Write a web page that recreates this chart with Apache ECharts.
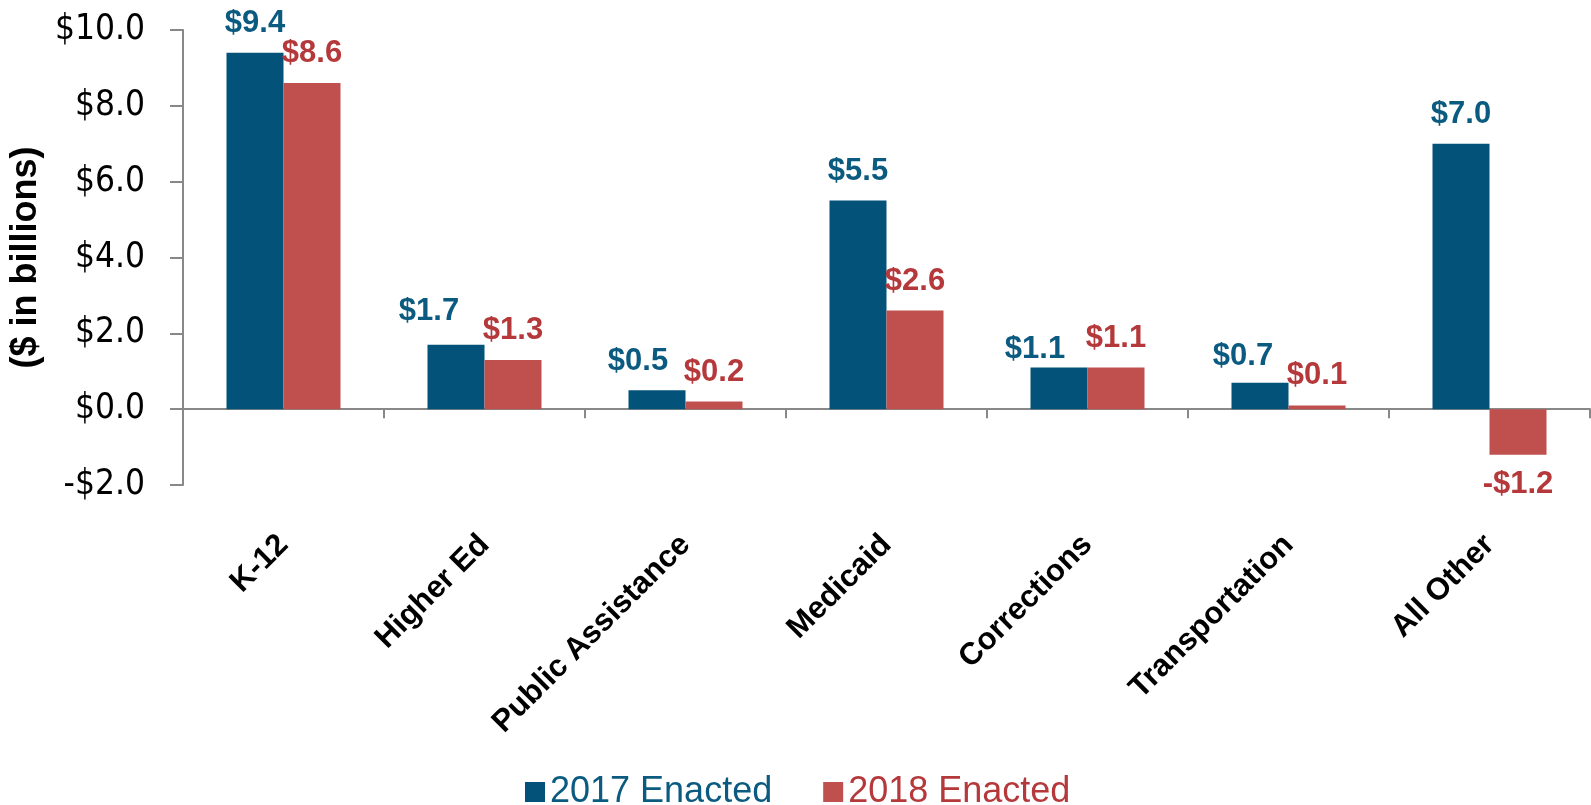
<!DOCTYPE html>
<html>
<head>
<meta charset="utf-8">
<title>Spending change by category</title>
<script src="https://cdn.jsdelivr.net/npm/echarts@6/dist/echarts.min.js"></script>
<style>
  html, body { margin: 0; padding: 0; background: #fff; }
  #chart-main { width: 1591px; height: 805px; }
</style>
</head>
<body>
<div id="chart-main"></div>
<script>
// chart data
const categories = ['K-12', 'Higher Ed', 'Public Assistance', 'Medicaid', 'Corrections', 'Transportation', 'All Other'];
const enacted2017 = [9.4, 1.7, 0.5, 5.5, 1.1, 0.7, 7.0];
const enacted2018 = [8.6, 1.3, 0.2, 2.6, 1.1, 0.1, -1.2];
const seriesNames = ['2017 Enacted', '2018 Enacted'];
const yTicks = [-2, 0, 2, 4, 6, 8, 10];

const BLUE = '#03527A';
const RED = '#C0504D';
const BLUE_TXT = '#0B5A80';
const RED_TXT = '#B5383B';

// blue labels that were nudged left in the original so they don't collide
const blueNudge = { 1: [-27, -4], 2: [-19, 1], 4: [-24, 11], 5: [-17, 3] };

function money(v) {
    return (v < 0 ? '-' : '') + '$' + Math.abs(v).toFixed(1);
}

function buildData(values, nudges) {
    return values.map(function (v, i) {
        let item = { value: v };
        if (v < 0) {
            item.label = { position: 'bottom' };
        }
        if (nudges && nudges[i]) {
            item.label = Object.assign(item.label || {}, { offset: nudges[i] });
        }
        return item;
    });
}

eshipChartMain();

function eshipChartMain() {
    let myChart = echarts.init(document.getElementById('chart-main'));

    let labelBase = {
        show: true,
        position: 'top',
        distance: 14,
        fontFamily: 'Liberation Sans, Arial, sans-serif',
        fontWeight: 'bold',
        fontSize: 31,
        formatter: function (p) { return money(p.value); }
    };

    let option = {
        animation: false,
        backgroundColor: '#fff',
        grid: {
            left: 183,
            right: 1,
            top: 30,
            bottom: 320,
            containLabel: false,
            outerBoundsMode: 'none'
        },
        legend: {
            data: [
                { name: seriesNames[0], textStyle: { color: BLUE_TXT } },
                { name: seriesNames[1], textStyle: { color: RED_TXT } }
            ],
            left: 520,
            top: 769,
            itemWidth: 20,
            itemHeight: 20,
            itemGap: 51,
            icon: 'rect',
            textStyle: {
                fontFamily: 'Liberation Sans, Arial, sans-serif',
                fontSize: 36
            }
        },
        xAxis: {
            type: 'category',
            data: categories,
            axisLine: { onZero: true, lineStyle: { color: '#888', width: 2 } },
            axisTick: { show: true, length: 9, lineStyle: { color: '#888', width: 2 } },
            axisLabel: {
                interval: 0,
                rotate: 45,
                margin: 55,
                color: '#000',
                fontFamily: 'Liberation Sans, Arial, sans-serif',
                fontWeight: 'bold',
                fontSize: 31
            }
        },
        yAxis: {
            type: 'value',
            min: yTicks[0],
            max: yTicks[yTicks.length - 1],
            interval: 2,
            name: '($ in billions)',
            nameLocation: 'middle',
            nameGap: 121,
            nameTextStyle: {
                fontFamily: 'Liberation Sans, Arial, sans-serif',
                fontWeight: 'bold',
                fontSize: 36,
                color: '#000'
            },
            axisLine: { show: true, lineStyle: { color: '#888', width: 2 } },
            axisTick: { show: true, length: 13, lineStyle: { color: '#888', width: 2 } },
            splitLine: { show: false },
            axisLabel: {
                margin: 38,
                color: '#000',
                fontFamily: 'DejaVu Sans Condensed, sans-serif',
                fontSize: 35,
                formatter: function (v) { return money(v); }
            }
        },
        series: [
            {
                name: seriesNames[0],
                type: 'bar',
                barWidth: 57,
                barGap: '0%',
                itemStyle: { color: BLUE },
                label: Object.assign({}, labelBase, { color: BLUE_TXT }),
                data: buildData(enacted2017, blueNudge)
            },
            {
                name: seriesNames[1],
                type: 'bar',
                barWidth: 57,
                barGap: '0%',
                itemStyle: { color: RED },
                label: Object.assign({}, labelBase, { color: RED_TXT }),
                data: buildData(enacted2018, null)
            }
        ]
    };

    myChart.setOption(option);
}
</script>
</body>
</html>
